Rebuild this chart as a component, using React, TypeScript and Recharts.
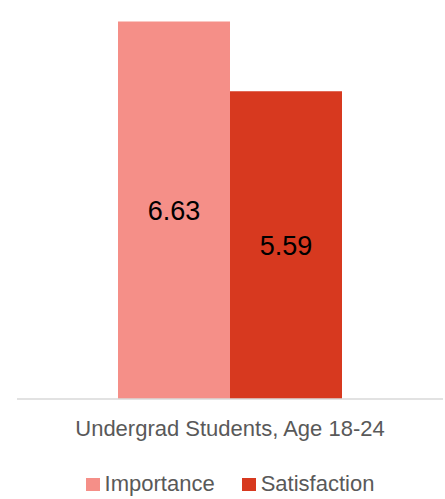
import { BarChart, Bar, XAxis, YAxis, Legend, LabelList } from 'recharts'

const categories = ['Undergrad Students, Age 18-24']
const importance = [6.63]
const satisfaction = [5.59]

const COLORS = { importance: '#F58F88', satisfaction: '#D7391F' }
const FONT = '"Liberation Sans", Arial, sans-serif'

const data = categories.map((name, i) => ({
  name,
  importance: importance[i],
  satisfaction: satisfaction[i],
}))

const renderLegend = (props: any) => {
  const { payload } = props
  return (
    <div style={{ display: 'flex', justifyContent: 'center', alignItems: 'center', fontFamily: FONT }}>
      {payload.map((entry: any, i: number) => (
        <div key={i} style={{ display: 'flex', alignItems: 'center', marginRight: i === payload.length - 1 ? 0 : 27 }}>
          <span style={{ display: 'inline-block', width: 14, height: 13, background: entry.color, marginRight: 5 }} />
          <span style={{ color: '#595959', fontSize: 22 }}>{entry.value}</span>
        </div>
      ))}
    </div>
  )
}

export default function App() {
  return (
    <div style={{ position: 'fixed', left: 0, top: 0, background: '#fff' }}>
      <BarChart
        width={445}
        height={499}
        data={data}
        margin={{ top: 10, right: 2, bottom: 3, left: 17 }}
        barGap={0}
        barCategoryGap={101}
      >
        <XAxis
          dataKey="name"
          axisLine={{ stroke: '#D9D9D9', strokeWidth: 1.5 }}
          tickLine={false}
          height={72}
          tickMargin={15}
          tick={{ fill: '#595959', fontSize: 22, fontFamily: FONT }}
        />
        <YAxis hide domain={[1, 6.8]} />
        <Legend verticalAlign="bottom" height={25} content={renderLegend} />
        <Bar dataKey="importance" name="Importance" fill={COLORS.importance} isAnimationActive={false}>
          <LabelList dataKey="importance" position="center" fill="#000" fontSize={27} fontFamily={FONT} />
        </Bar>
        <Bar dataKey="satisfaction" name="Satisfaction" fill={COLORS.satisfaction} isAnimationActive={false}>
          <LabelList dataKey="satisfaction" position="center" fill="#000" fontSize={27} fontFamily={FONT} />
        </Bar>
      </BarChart>
    </div>
  )
}
